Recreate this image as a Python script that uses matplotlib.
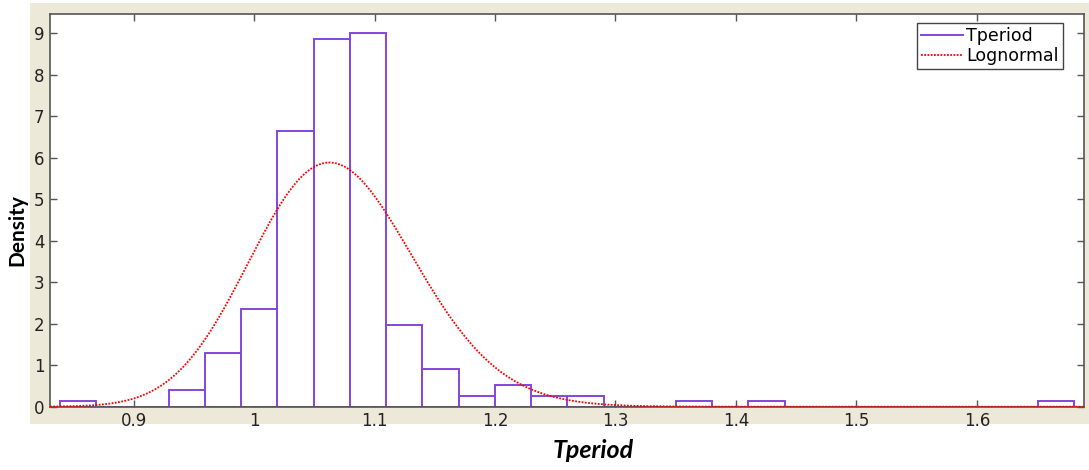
import numpy as np
import matplotlib
matplotlib.use("Agg")
import matplotlib.pyplot as plt
from matplotlib.patches import Rectangle
from matplotlib.lines import Line2D

# histogram of the period data (28 equal bins between the min and max sample)
bin_lo = 0.839
bin_hi = 1.681
counts = [1, 0, 0, 3, 10, 18, 51, 68, 69, 15, 7, 2, 4, 2, 2,
          0, 0, 1, 0, 1, 0, 0, 0, 0, 0, 0, 0, 1]

# fitted lognormal parameters
mu = 0.0647
sigma = 0.0637

x_ticks = [0.9, 1.0, 1.1, 1.2, 1.3, 1.4, 1.5, 1.6]
x_tick_labels = ["0.9", "1", "1.1", "1.2", "1.3", "1.4", "1.5", "1.6"]
y_ticks = list(range(0, 10))

nb = len(counts)
width = (bin_hi - bin_lo) / nb
lefts = bin_lo + width * np.arange(nb)
dens = np.array(counts) / (sum(counts) * width)

W, H = 1089, 470
fig = plt.figure(figsize=(W / 100, H / 100), dpi=100)
fig.patch.set_facecolor("white")
# grey panel behind the axes
fig.patches.append(Rectangle((30 / W, 1 - 424 / H), 1 - 30 / W, (424 - 3) / H,
                             transform=fig.transFigure, facecolor="#ECE9D8",
                             edgecolor="none", zorder=-10))

ax = fig.add_axes([50 / W, 1 - 406.7 / H, (1084 - 50) / W, (406.7 - 14) / H])
ax.set_zorder(5)
ax.set_facecolor("white")

purple = "#8446DC"
ax.bar(lefts, dens, width=width, align="edge", facecolor="white",
       edgecolor=purple, linewidth=1.4, zorder=2)

xx = np.linspace(0.8306, 1.6889, 600)
pdf = np.exp(-(np.log(xx) - mu) ** 2 / (2 * sigma ** 2)) / (xx * sigma * np.sqrt(2 * np.pi))
ax.plot(xx, pdf, color="red", linestyle=(0, (1, 0.8)), linewidth=1.3, zorder=3)

ax.set_xlim(0.8306, 1.6889)
ax.set_ylim(0, 9.46)
ax.set_xticks(x_ticks)
ax.set_xticklabels(x_tick_labels)
ax.set_yticks(y_ticks)
ax.tick_params(direction="in", top=True, right=True, length=5, width=1,
               color="#555555", labelsize=12, labelcolor="#222222", pad=4)
for s in ax.spines.values():
    s.set_color("#555555")
    s.set_linewidth(1.2)

handles = [Line2D([], [], color=purple, lw=1.4),
           Line2D([], [], color="red", linestyle=(0, (1, 0.8)), lw=1.3)]
leg = ax.legend(handles, ["Tperiod", "Lognormal"], loc="upper right",
                bbox_to_anchor=(1063 / W, 1 - 22.7 / H),
                bbox_transform=fig.transFigure, borderaxespad=0,
                fancybox=False, framealpha=1, edgecolor="#444444",
                fontsize=12.5, handlelength=2.4, handletextpad=0.2,
                labelspacing=0.1, borderpad=0.25)
leg.get_frame().set_linewidth(1.0)

fig.text(17 / W, 1 - 230 / H, "Density", rotation=90, ha="center", va="center",
         fontsize=15, fontweight="bold", family="Lato")
fig.text(593 / W, 1 - 451 / H, "Tperiod", ha="center", va="center",
         fontsize=18, fontweight="bold", fontstyle="italic", family="Lato")

fig.savefig("out.png", dpi=100)
